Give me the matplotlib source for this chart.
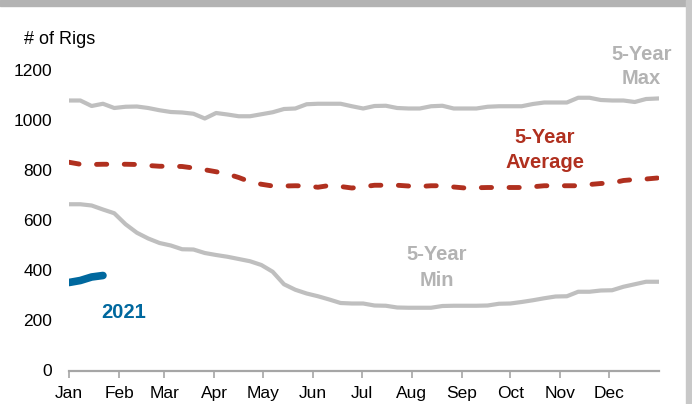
import matplotlib
matplotlib.use("Agg")
import matplotlib.pyplot as plt
from matplotlib.patches import Rectangle
import numpy as np

plt.rcParams['font.family'] = ['Liberation Sans', 'DejaVu Sans']

# %% data (weekly rig counts)
months = ['Jan', 'Feb', 'Mar', 'Apr', 'May', 'Jun',
          'Jul', 'Aug', 'Sep', 'Oct', 'Nov', 'Dec']
month_start = [0, 31, 59, 90, 120, 151, 181, 212, 243, 273, 304, 334]

max5 = [1080, 1080, 1058, 1067, 1050, 1055, 1056, 1050, 1041, 1034,
        1032, 1027, 1008, 1030, 1024, 1017, 1017, 1025, 1033, 1046,
        1048, 1065, 1067, 1067, 1067, 1057, 1048, 1058, 1059, 1050,
        1048, 1048, 1057, 1059, 1048, 1048, 1048, 1055, 1057, 1057,
        1057, 1066, 1072, 1072, 1072, 1091, 1091, 1082, 1080, 1080,
        1074, 1086, 1088]
avg5 = [833, 825, 824, 825, 825, 825, 824, 820, 817, 817,
        816, 810, 803, 795, 786, 772, 755, 745, 738, 738,
        739, 738, 733, 740, 736, 730, 735, 741, 741, 741,
        738, 736, 739, 739, 734, 730, 731, 732, 732, 732,
        732, 735, 739, 739, 739, 739, 744, 748, 750, 760,
        764, 766, 770]
min5 = [665, 665, 660, 644, 629, 585, 551, 528, 510, 500,
        485, 484, 470, 462, 455, 446, 437, 422, 395, 345,
        323, 308, 297, 284, 270, 268, 268, 260, 259, 252,
        251, 251, 251, 258, 259, 259, 259, 260, 267, 268,
        274, 281, 289, 296, 297, 315, 315, 320, 321, 335,
        345, 355, 355]
rigs2021 = [352, 360, 374, 380]

weeks = np.arange(len(max5)) * 7  # day of year for each weekly point

gray = '#BFBFBF'
red = '#B0301F'
blue = '#00689E'

# %% plot
fig = plt.figure(figsize=(6.92, 4.04), dpi=100)
ax = fig.add_axes([69/692, 1 - 370.5/404, 590/692, 300/404])

ax.plot(weeks, max5, color=gray, lw=3, solid_joinstyle='round')
ax.plot(weeks, min5, color=gray, lw=3, solid_joinstyle='round')
ax.plot(weeks, avg5, color=red, lw=3.5, dashes=(2.1, 3.6),
        dash_capstyle='round')
ax.plot(weeks[:len(rigs2021)], rigs2021, color=blue, lw=5.5,
        solid_capstyle='round')

ax.set_xlim(0, 365)
ax.set_ylim(0, 1200)
ax.set_yticks(np.arange(0, 1201, 200))
ax.set_xticks(month_start, months)

for s in ['top', 'right', 'left']:
    ax.spines[s].set_visible(False)
ax.spines['bottom'].set_color('#A6A6A6')
ax.spines['bottom'].set_linewidth(1.6)
ax.tick_params(axis='x', direction='out', length=5, width=1.2,
               color='#A6A6A6', labelsize=12.5, pad=6)
ax.tick_params(axis='y', length=0, labelsize=12.5, pad=12)

# series labels
lbl = dict(fontsize=14.5, fontweight='bold', ha='center', va='center',
           linespacing=1.4)
ax.text(354, 1216, '5-Year\nMax', color='#B3B3B3', clip_on=False, **lbl)
ax.text(294.5, 882, '5-Year\nAverage', color=red, **lbl)
ax.text(227.7, 412, '5-Year\nMin', color='#B3B3B3', **lbl)
ax.text(34, 230, '2021', color=blue, fontsize=14.5, fontweight='bold',
        ha='center', va='center')

fig.text(24/692, 1 - 40/404, '# of Rigs', fontsize=13, ha='left',
         va='center')

# frame bars at top and right
fig.patches.append(Rectangle((0, 1 - 6/404), 1, 6/404, transform=fig.transFigure,
                             color='#B3B3B3', zorder=0))
fig.patches.append(Rectangle((686/692, 0), 6/692, 1, transform=fig.transFigure,
                             color='#C8C8C8', zorder=0))

fig.savefig("out.png", dpi=100)
plt.close()
